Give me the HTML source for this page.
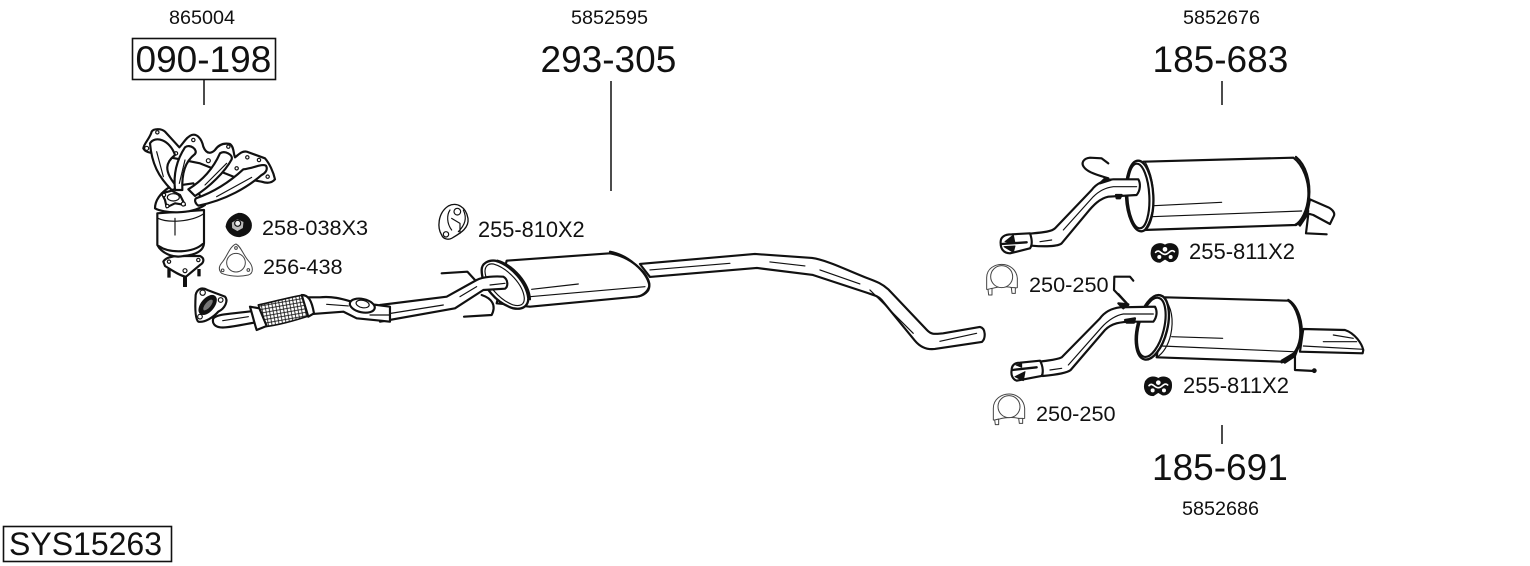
<!DOCTYPE html>
<html><head><meta charset="utf-8"><style>
html,body{margin:0;padding:0;background:#fff;width:1530px;height:566px;overflow:hidden}
svg{display:block}
text{font-family:"Liberation Sans",sans-serif;fill:#111}
.z path,.z ellipse,.z circle,.z polygon,.z line{stroke:#111;stroke-width:6.5;fill:#fff;stroke-linejoin:round;stroke-linecap:round}
.z .n{fill:none}
.z .t{stroke-width:3.5}
.z .d{fill:#111}
.z .w{fill:none;stroke:#fff;stroke-width:5}
.z .g{stroke:#444;stroke-width:3}
</style></head><body>
<svg width="1530" height="566" viewBox="0 0 1530 566" xmlns="http://www.w3.org/2000/svg">
<defs>
<pattern id="mesh" width="15" height="15" patternUnits="userSpaceOnUse" patternTransform="rotate(35)">
<rect width="15" height="15" fill="#fff"/>
<path d="M0,0L15,15M15,0L0,15" stroke="#111" stroke-width="2.4"/>
</pattern>
</defs>
<!-- labels -->
<text x="169" y="24" font-size="19.8">865004</text>
<text x="571" y="24" font-size="19.8">5852595</text>
<text x="1183" y="24" font-size="19.8">5852676</text>
<text x="1182" y="515" font-size="19.8">5852686</text>
<rect x="132.5" y="38.5" width="143" height="41" fill="none" stroke="#111" stroke-width="1.6"/>
<text x="135.5" y="72" font-size="37">090-198</text>
<text x="540.5" y="72" font-size="37">293-305</text>
<text x="1152.5" y="72" font-size="37">185-683</text>
<text x="1152" y="480" font-size="37">185-691</text>
<rect x="3.5" y="526.5" width="168" height="35" fill="none" stroke="#111" stroke-width="1.6"/>
<text x="9" y="555" font-size="32">SYS15263</text>
<text x="262" y="235" font-size="21.7">258-038X3</text>
<text x="263" y="274" font-size="21.7">256-438</text>
<text x="478" y="237" font-size="21.8">255-810X2</text>
<text x="1189" y="259" font-size="22">255-811X2</text>
<text x="1183" y="393" font-size="22">255-811X2</text>
<text x="1029" y="292" font-size="21.7">250-250</text>
<text x="1036" y="421" font-size="21.7">250-250</text>
<g stroke="#111" stroke-width="1.5">
<line x1="204" y1="80" x2="204" y2="105"/>
<line x1="611" y1="81" x2="611" y2="191"/>
<line x1="1222" y1="81" x2="1222" y2="105"/>
<line x1="1222" y1="425" x2="1222" y2="444"/>
</g>

<!-- main pipe -->
<g class="z" transform="scale(.3333)">
<path d="M1920,792 L2265,762 L2436,774 C2480,780 2540,810 2601,834 C2630,845 2645,850 2665,868 L2781,990 C2795,1005 2805,1002 2830,1000 L2940,981 C2958,985 2958,1015 2946,1026 L2805,1047 C2780,1050 2760,1040 2745,1022 L2645,900 C2635,888 2620,885 2600,878 L2439,825 L2271,804 L1950,831 Z"/>
<path class="n t" d="M1950,810 L2190,790 M2310,786 L2415,798 M2460,810 L2580,852 M2610,870 L2740,1000 M2820,1024 L2930,1000"/>
</g>

<!-- muffler 1 + pipe: zoom2 coords -->
<g class="z" transform="translate(380,190) scale(.3333)">
<path class="n" d="M185,250 L262,245 L285,270"/>
<path class="n" d="M305,315 C335,325 350,345 335,375 L252,380"/>
<path d="M380,212 L690,190 C750,200 800,245 808,280 C810,300 790,318 770,320 L450,350 L350,340 Z"/>
<path class="n" d="M690,185 C745,195 800,245 808,285 C810,305 790,318 770,320"/>
<path class="n t" d="M455,298 L595,282 M450,320 L795,290"/>
<path d="M345,212 C395,225 440,280 445,325 C445,350 425,360 400,355 C350,340 305,290 305,240 C305,220 325,210 345,212 Z" style="stroke-width:7"/>
<path class="n t" d="M340,222 C385,235 430,285 433,325 C433,345 420,350 400,345 C360,330 318,285 315,245 C315,228 325,220 340,222 Z"/>
<path class="n" d="M352,212 C400,225 447,280 450,328"/>
<path d="M0,345 L200,320 L290,270 C310,260 345,258 370,260 C385,268 385,290 375,296 L310,300 L225,355 L0,395 Z" />
<path class="n t" d="M20,372 L190,345 M240,320 L290,290 M330,285 L375,280"/>
<!-- isolator 255-810 -->
<path class="t" style="stroke-width:4" d="M205,48 C230,35 258,50 264,85 C268,115 240,130 215,145 C205,150 190,148 185,135 C172,115 172,70 205,48 Z"/>
<path class="n t" d="M210,60 C200,75 200,100 215,120 M250,60 C262,85 255,105 235,125 M215,85 L240,100 L240,130"/>
<circle class="t" cx="232" cy="65" r="10"/>
<circle class="t" cx="198" cy="133" r="8"/>
</g>

<!-- downpipe section -->
<g class="z" transform="translate(130,110) scale(.3333)">
<path d="M530,562 L570,562 C610,558 640,568 665,575 L780,590 L780,635 L680,625 L640,605 L550,612 Z"/>
<path class="n t" d="M590,583 L655,588 M720,615 L780,615"/>
<ellipse cx="697" cy="587" rx="38" ry="20" transform="rotate(12 697 587)"/>
<ellipse class="t" cx="698" cy="582" rx="20" ry="11" transform="rotate(12 698 582)"/>
<path d="M250,625 C265,610 310,612 370,603 L378,637 C330,645 290,655 270,652 C255,650 245,640 250,625 Z"/>
<path class="n t" d="M278,632 L355,620"/>
<path d="M385,585 C430,575 480,562 520,555 L545,615 C500,630 450,645 405,650 Z" style="fill:url(#mesh);stroke-width:5"/>
<path d="M360,590 L388,595 L410,648 L380,660 C372,635 366,610 360,590 Z"/>
<path d="M515,555 C535,555 545,570 552,610 L535,620 Z"/>
<path d="M197,555 C200,538 215,530 232,540 L285,560 C296,572 285,595 265,605 C250,622 225,638 205,635 C195,628 195,590 197,555 Z"/>
<ellipse cx="233" cy="585" rx="32" ry="17" class="d" transform="rotate(-50 233 585)"/>
<ellipse cx="234" cy="585" rx="20" ry="8" style="fill:#777;stroke:none" transform="rotate(-50 234 585)"/>
<circle class="t" cx="218" cy="548" r="8"/>
<circle class="t" cx="272" cy="570" r="7"/>
<circle class="t" cx="210" cy="620" r="7"/>
</g>

<!-- catalytic converter: zoom coords origin 150,190 -->
<g class="z" transform="translate(150,190) scale(.3333)">
<path class="d" d="M53,238 h8 v24 h-8z M100,262 h10 v28 h-10z M143,238 h8 v20 h-8z" style="stroke-width:2"/>
<path d="M40,215 C45,205 60,200 80,198 L150,198 C165,205 162,218 150,225 L108,260 C90,258 65,240 45,228 Z"/>
<circle class="t" cx="57" cy="215" r="5"/><circle class="t" cx="145" cy="210" r="5"/><circle class="t" cx="105" cy="242" r="6"/>
<path d="M22,70 L22,165 C35,190 70,205 100,198 C135,195 160,185 162,160 L162,60 Z"/>
<path class="n" d="M26,168 C60,192 130,188 158,162"/>
<path class="n t" d="M75,85 L75,135 M24,85 C55,100 125,95 160,72"/>
<path d="M15,55 C15,30 30,10 60,-10 L130,-20 L165,45 C120,75 40,70 15,55 Z"/>
<!-- nut -->
<path class="d" d="M265,72 C285,70 298,85 302,100 C305,118 295,132 270,138 C250,140 235,125 230,110 C232,92 245,78 265,72 Z"/>
<path d="M262,86 L282,95 L280,115 L262,125 L245,115 L244,97 Z" style="stroke-width:3;fill:#bbb"/>
<circle cx="263" cy="100" r="9" style="stroke-width:3.5;fill:#eee"/>
<!-- gasket -->
<path class="g" d="M258,162 C272,168 280,195 295,212 C310,228 312,250 295,255 C265,262 235,258 215,250 C205,240 206,228 218,215 C232,198 240,168 258,162 Z"/>
<circle class="g" cx="258" cy="218" r="28"/>
<circle class="g" cx="258" cy="174" r="4"/><circle class="g" cx="218" cy="241" r="4"/><circle class="g" cx="295" cy="240" r="4"/>
</g>

<!-- manifold: zoom6 coords origin 140,120 -->
<g class="z" transform="translate(140,120) scale(.3333)">
<path d="M10,85 C12,70 30,55 35,35 C40,25 65,25 75,35 L118,82 C130,70 140,50 155,45 C170,40 185,55 190,80 C200,105 215,100 225,90 C235,75 250,68 270,72 C282,80 280,100 285,112 C295,105 305,92 320,95 L375,115 C388,130 400,155 405,178 C395,190 380,190 365,185 L280,170 L180,130 L80,110 C55,95 20,105 10,85 Z"/>
<circle class="t" cx="52" cy="37" r="5"/><circle class="t" cx="20" cy="85" r="6"/><circle class="t" cx="160" cy="60" r="5"/>
<circle class="t" cx="205" cy="122" r="6"/><circle class="t" cx="265" cy="80" r="5"/><circle class="t" cx="290" cy="145" r="5"/><circle class="t" cx="322" cy="112" r="5"/><circle class="t" cx="357" cy="120" r="5"/><circle class="t" cx="383" cy="170" r="5"/><circle class="t" cx="108" cy="100" r="5"/>
<path d="M30,70 C45,45 90,60 105,105 C80,125 65,150 115,205 L95,210 C55,170 35,130 30,70 Z"/>
<path d="M135,82 C150,70 175,90 165,102 C135,125 125,160 127,210 L105,210 C100,165 110,120 135,82 Z"/>
<path d="M240,100 C255,90 280,105 275,118 C255,155 210,200 165,228 L145,208 C190,180 220,145 240,100 Z"/>
<path d="M310,148 C340,145 365,130 378,137 C385,150 375,160 365,165 C325,200 260,240 175,257 C165,250 163,240 168,235 C225,215 270,185 310,148 Z"/>
<path class="n t" d="M260,130 L195,195 M335,172 L230,230 M50,95 L70,170 M135,120 L118,190"/>
<path d="M65,220 L95,212 L120,225 L135,255 L105,250 L80,262 L75,240 Z"/>
<ellipse cx="100" cy="232" rx="18" ry="11" class="t"/>
<circle class="t" cx="72" cy="225" r="5"/><circle class="t" cx="130" cy="252" r="6"/><circle class="t" cx="82" cy="258" r="5"/>
</g>

<!-- top rear silencer: zoom3 coords -->
<g class="z" transform="translate(980,145) scale(.3333)">
<path class="n" d="M385,100 C360,92 330,85 315,70 C300,55 310,40 330,38 L365,40 L385,55"/>
<path d="M990,163 L1045,187 C1060,195 1065,205 1062,212 L1050,237 L1000,210 L982,205 Z"/>
<path class="n" d="M985,208 L978,265 L1040,268"/>
<path d="M490,50 L940,38 C970,60 988,110 985,155 C982,195 965,230 945,240 L490,255 Z"/>
<path class="n" d="M948,36 C978,60 992,110 987,160 C984,200 968,228 948,240" style="stroke-width:7"/>
<path class="n t" d="M522,182 L725,172 M515,215 L965,198"/>
<path class="d" d="M955,235 L985,198 L978,215 L960,242 Z"/>
<ellipse cx="479" cy="153" rx="41" ry="106" transform="rotate(-3 479 153)" style="stroke-width:7"/>
<ellipse class="n" cx="475" cy="153" rx="33" ry="97" transform="rotate(-3 475 153)"/>
<path class="n t" d="M495,50 C515,85 522,125 520,170 C518,205 508,235 495,252"/>
<path d="M475,103 L400,103 C370,105 350,115 335,135 L225,250 C215,260 190,262 150,266 L155,302 C190,305 235,305 245,295 L320,205 C340,180 360,160 385,155 L470,150 C482,135 482,115 475,103 Z"/>
<path class="n t" d="M470,125 L400,125 C375,128 355,140 340,155 L250,255 M180,290 L215,285"/>
<path class="d" d="M375,100 L392,105 L360,115 Z M408,150 L425,150 L420,160 L410,160 Z"/>
<path d="M150,265 C157,285 157,300 150,310 L90,325 C70,325 62,310 62,295 C60,275 75,268 95,268 Z"/>
<path class="d" d="M75,290 L100,270 L105,295 Z M72,305 L105,303 L100,322 Z" style="stroke-width:3"/>
<path class="n" d="M65,297 L140,292" style="stroke-width:7"/>
<!-- isolator -->
<path class="d" d="M518,310 C528,295 545,295 555,303 C565,295 585,295 592,312 C596,335 585,350 568,348 L555,340 L540,350 C520,350 510,332 518,310 Z"/>
<path class="w" d="M527,322 C537,310 545,330 555,328 C565,330 572,310 583,320"/>
<circle cx="555" cy="313" r="7" style="fill:#fff;stroke:none"/>
<circle cx="538" cy="336" r="6" style="fill:#fff;stroke:none"/><circle cx="572" cy="336" r="6" style="fill:#fff;stroke:none"/>
<!-- clamp -->
<path class="g" d="M20,433 L20,398 C20,370 45,358 65,358 C90,358 110,375 112,400 L112,428 L100,430 C85,422 45,425 30,433 Z"/>
<circle class="g" cx="65" cy="395" r="33"/>
<path class="g" d="M24,433 L36,430 L36,450 L26,450 Z M94,428 L106,428 L106,445 L96,445 Z"/>
</g>

<!-- lower rear silencer: zoom4 coords -->
<g class="z" transform="translate(980,270) scale(.3333)">
<path class="n" d="M460,32 L450,20 L403,20 L402,60 L440,100"/>
<path class="n" d="M415,72 L445,105"/>
<path d="M970,177 L1095,180 C1125,190 1145,220 1150,240 L1148,250 L960,245 Z"/>
<path class="n t" d="M1030,215 L1130,215 M970,228 L1150,238 M1060,195 L1120,205"/>
<path class="n" d="M945,245 L945,300 L1003,303"/>
<circle class="d" cx="1003" cy="302" r="4"/>
<path d="M555,82 L925,92 C950,110 965,160 960,205 C955,240 935,265 905,275 L530,262 Z"/>
<path class="n" d="M925,90 C955,108 970,160 964,205 C958,240 938,268 905,277" style="stroke-width:7"/>
<path class="n t" d="M575,200 L728,205 M545,228 L940,245"/>
<path class="d" d="M905,272 L950,245 L945,258 L915,278 Z"/>
<ellipse cx="517" cy="172" rx="45" ry="99" transform="rotate(14 517 172)" style="stroke-width:7"/>
<ellipse class="n" cx="514" cy="172" rx="38" ry="91" transform="rotate(14 514 172)"/>
<path class="n t" d="M552,85 C575,110 582,150 572,195 C565,225 550,250 530,262"/>
<path d="M525,110 L420,112 C395,115 375,125 360,145 L245,262 C230,270 210,270 180,275 L188,318 C220,315 260,310 272,300 L375,180 C395,160 420,155 460,155 L520,155 C532,140 532,122 525,110 Z"/>
<path class="n t" d="M520,132 L430,132 C410,135 385,150 365,172 L265,285 M210,300 L245,295"/>
<path class="d" d="M415,100 L445,103 L430,115 Z M435,150 L465,145 L462,158 L440,158 Z"/>
<path d="M180,272 C190,290 190,310 185,318 L110,332 C98,328 92,315 95,300 C95,285 105,278 120,278 Z"/>
<path class="d" d="M105,320 L135,305 L130,332 Z M108,285 L125,280 L125,292 Z" style="stroke-width:3"/>
<path class="n" d="M97,300 L170,292" style="stroke-width:7"/>
<!-- isolator -->
<path class="d" d="M498,335 C508,320 525,320 535,328 C545,320 565,320 572,337 C576,360 565,375 548,373 L535,365 L520,375 C500,375 490,357 498,335 Z"/>
<path class="w" d="M507,347 C517,335 525,355 535,353 C545,355 552,335 563,345"/>
<circle cx="535" cy="338" r="7" style="fill:#fff;stroke:none"/>
<circle cx="518" cy="361" r="6" style="fill:#fff;stroke:none"/><circle cx="552" cy="361" r="6" style="fill:#fff;stroke:none"/>
<!-- clamp 2 -->
<path class="g" d="M40,450 L40,415 C40,387 65,372 87,372 C112,372 132,390 134,415 L134,445 L122,447 C105,440 65,442 52,450 Z"/>
<circle class="g" cx="87" cy="410" r="33"/>
<path class="g" d="M44,450 L56,447 L56,464 L46,464 Z M116,445 L128,445 L128,460 L118,460 Z"/>
</g>
</svg>
</body></html>
